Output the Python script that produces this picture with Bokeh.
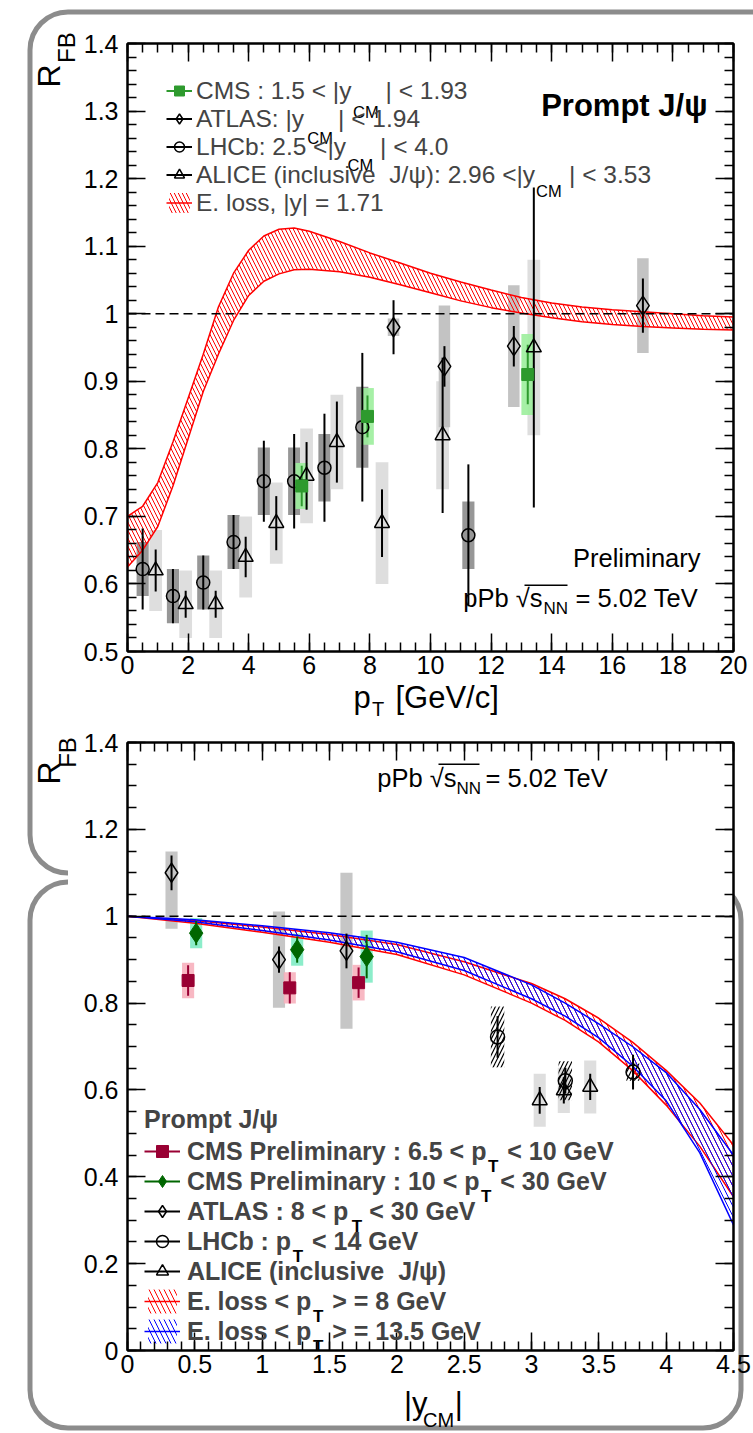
import numpy as np
from urllib.parse import quote
from bokeh.plotting import figure
from bokeh.models import (Range1d, LinearAxis, FixedTicker, Span, Label, Legend,
                          LegendItem, CustomJSTickFormatter, BoxAnnotation)
from bokeh.layouts import column
from bokeh.embed import file_html
from bokeh.resources import INLINE

FONT = "Liberation Sans"

# ---------------- top panel data (R_FB vs pT) ----------------
cms_pt = [5.75, 7.92, 13.21]
cms_r = [0.745, 0.848, 0.910]
cms_stat = [0.030, 0.031, 0.044]
cms_syst = [0.034, 0.042, 0.060]

atlas_pt = [8.78, 10.46, 12.75, 17.01]
atlas_r = [0.980, 0.922, 0.952, 1.012]
atlas_stat = [0.040, 0.030, 0.030, 0.040]
atlas_syst = [0.013, 0.090, 0.090, 0.070]

lhcb_pt = [0.5, 1.5, 2.5, 3.5, 4.5, 5.5, 6.5, 7.75, 11.25]
lhcb_r = [0.622, 0.582, 0.602, 0.662, 0.752, 0.752, 0.772, 0.832, 0.672]
lhcb_stat = [0.060, 0.040, 0.040, 0.040, 0.060, 0.070, 0.080, 0.110, 0.105]
lhcb_syst = [0.040, 0.040, 0.040, 0.040, 0.050, 0.050, 0.050, 0.060, 0.050]

alice_pt = [0.93, 1.92, 2.91, 3.90, 4.91, 5.91, 6.91, 8.40, 10.40, 13.41]
alice_r = [0.620, 0.570, 0.570, 0.640, 0.690, 0.760, 0.810, 0.690, 0.820, 0.950]
alice_stat = [0.031, 0.020, 0.020, 0.030, 0.040, 0.050, 0.060, 0.050, 0.115, 0.237]
alice_syst = [0.060, 0.050, 0.050, 0.060, 0.060, 0.070, 0.070, 0.090, 0.080, 0.130]

eloss_pt = [0, 0.5, 1, 1.5, 2, 2.5, 3, 3.5, 4, 4.5, 5, 5.5, 6, 7, 8, 9, 10,
            11, 12, 13, 14, 15, 16, 17, 18, 19, 20]
eloss_hi = [0.700, 0.715, 0.750, 0.810, 0.875, 0.940, 1.010, 1.060, 1.094, 1.115,
            1.125, 1.127, 1.122, 1.107, 1.090, 1.075, 1.060, 1.047, 1.035, 1.024,
            1.016, 1.010, 1.006, 1.003, 1.000, 0.997, 0.995]
eloss_lo = [0.625, 0.650, 0.685, 0.745, 0.815, 0.885, 0.940, 0.990, 1.027, 1.048,
            1.059, 1.065, 1.066, 1.062, 1.054, 1.043, 1.031, 1.019, 1.009, 1.001,
            0.994, 0.988, 0.984, 0.981, 0.979, 0.977, 0.976]

# ---------------- bottom panel data (R_FB vs |y_CM|) ----------------
cms1_y = [0.45, 1.205, 1.716]
cms1_r = [0.852, 0.835, 0.847]
cms1_stat = [0.035, 0.036, 0.035]
cms1_syst = [0.041, 0.036, 0.041]

cms2_y = [0.51, 1.26, 1.776]
cms2_r = [0.961, 0.923, 0.907]
cms2_stat = [0.028, 0.030, 0.050]
cms2_syst = [0.035, 0.037, 0.060]

atlasb_y = [0.327, 1.125, 1.626]
atlasb_r = [1.100, 0.900, 0.920]
atlasb_stat = [0.040, 0.030, 0.040]
atlasb_box_lo = [0.971, 0.789, 0.741]
atlasb_box_hi = [1.149, 1.011, 1.100]

lhcbb_y = [2.748, 3.251, 3.754]
lhcbb_r = [0.722, 0.621, 0.641]
lhcbb_stat = [0.048, 0.030, 0.040]
lhcbb_syst = [0.070, 0.045, 0.020]

aliceb_y = [3.061, 3.240, 3.436]
aliceb_r = [0.576, 0.599, 0.607]
aliceb_stat = [0.031, 0.030, 0.030]
aliceb_syst = [0.061, 0.052, 0.061]

band_y = [0, 0.5, 1, 1.5, 2, 2.5, 3, 3.25, 3.5, 3.75, 4, 4.25, 4.5]
red_hi = [1.0, 0.990, 0.975, 0.958, 0.935, 0.895, 0.845, 0.810, 0.765, 0.710, 0.645, 0.570, 0.473]
red_lo = [1.0, 0.984, 0.963, 0.940, 0.912, 0.865, 0.800, 0.760, 0.710, 0.645, 0.565, 0.470, 0.354]
blue_hi = [1.0, 0.992, 0.978, 0.962, 0.940, 0.905, 0.842, 0.800, 0.752, 0.700, 0.640, 0.555, 0.450]
blue_lo = [1.0, 0.987, 0.967, 0.945, 0.918, 0.875, 0.810, 0.770, 0.720, 0.655, 0.575, 0.455, 0.289]

top_xticks = [0, 2, 4, 6, 8, 10, 12, 14, 16, 18, 20]
top_yticks = [0.5, 0.6, 0.7, 0.8, 0.9, 1.0, 1.1, 1.2, 1.3, 1.4]
bot_xticks = [0, 0.5, 1, 1.5, 2, 2.5, 3, 3.5, 4, 4.5]
bot_yticks = [0, 0.2, 0.4, 0.6, 0.8, 1.0, 1.2, 1.4]

# ---------------- helpers ----------------
AR = {' ': 278, '\u00a0': 278, '(': 333, ')': 333, ',': 278, '.': 278, '/': 278, ':': 278,
      '<': 584, '=': 584, '>': 584, '|': 260, 'A': 667, 'B': 667, 'C': 722, 'E': 667,
      'G': 778, 'H': 722, 'I': 278, 'J': 500, 'L': 556, 'M': 833, 'N': 722, 'P': 667,
      'S': 667, 'T': 611, 'V': 667, 'a': 556, 'b': 556, 'c': 500, 'e': 556, 'i': 222,
      'l': 222, 'm': 833, 'n': 556, 'o': 556, 'p': 556, 'r': 333, 's': 500, 't': 278,
      'u': 556, 'v': 500, 'y': 500, '\u03c8': 690}
AB = {' ': 278, '\u00a0': 278, '(': 333, ')': 333, '.': 278, '/': 278, ':': 333,
      '<': 584, '=': 584, '>': 584, '|': 280, 'A': 722, 'C': 722, 'E': 667, 'G': 778,
      'H': 722, 'I': 278, 'J': 556, 'L': 611, 'M': 833, 'P': 667, 'S': 667, 'T': 611,
      'V': 667, 'a': 556, 'b': 611, 'c': 556, 'e': 556, 'i': 278, 'l': 278, 'm': 889,
      'n': 611, 'o': 611, 'p': 611, 'r': 389, 's': 556, 't': 333, 'u': 611, 'v': 556,
      'y': 556, '\u03c8': 690}


def tw(s, size, bold=False):
    t = AB if bold else AR
    return sum(t.get(c, 556) for c in s) * size / 1000.0


FRAME_LEFT = 127


def txt(p, fb, px, py, text, size, bold=False, align="left", baseline="middle", angle=0.0):
    p.add_layout(Label(x=px - FRAME_LEFT, y=fb - py, x_units="screen", y_units="screen",
                       text=text, text_font=FONT, text_font_size=f"{size}px",
                       text_font_style="bold" if bold else "normal", text_color="black",
                       text_align=align, text_baseline=baseline, angle=angle))


def text_axis(p, side, ticks, labels, size, standoff, vertical=False):
    """An axis without line or ticks whose tick labels carry a title piece."""
    ax = LinearAxis(ticker=FixedTicker(ticks=ticks, minor_ticks=[]),
                    major_label_overrides={t: l for t, l in zip(ticks, labels)},
                    axis_line_color=None, major_tick_line_color=None,
                    minor_tick_line_color=None, major_tick_in=0, major_tick_out=0,
                    minor_tick_in=0, minor_tick_out=0, major_label_standoff=standoff,
                    major_label_text_font=FONT, major_label_text_font_size=f"{size}px",
                    major_label_text_color="black")
    if vertical:
        ax.major_label_orientation = "vertical"
    p.add_layout(ax, side)
    return ax


def make_fig(h, xr, yr, top, bottom, xt, xstep, yt, ystep):
    p = figure(width=753, height=h, x_range=Range1d(*xr), y_range=Range1d(*yr),
               output_backend="svg", toolbar_location=None,
               min_border_left=FRAME_LEFT, min_border_right=20,
               min_border_top=top, min_border_bottom=bottom,
               background_fill_color="white", border_fill_color=None,
               outline_line_color="black", outline_line_width=2)
    p.xgrid.visible = False
    p.ygrid.visible = False
    xminor = list(np.round(np.arange(xr[0], xr[1] + 1e-9, xstep), 4))
    yminor = list(np.round(np.arange(yr[0], yr[1] + 1e-9, ystep), 4))
    fmt = CustomJSTickFormatter(code="return String(Math.round(tick*1000)/1000);")
    blank = CustomJSTickFormatter(code="return '';")
    p.add_layout(LinearAxis(), "above")
    p.add_layout(LinearAxis(), "right")
    for ax, ticks, minor, shown in [(p.below[0], xt, xminor, True), (p.above[0], xt, xminor, False),
                                    (p.left[0], yt, yminor, True), (p.right[0], yt, yminor, False)]:
        ax.ticker = FixedTicker(ticks=ticks, minor_ticks=minor)
        ax.formatter = fmt if shown else blank
        ax.axis_line_color = "black"
        ax.axis_line_width = 2
        ax.major_tick_in = 18
        ax.major_tick_out = 0
        ax.minor_tick_in = 9
        ax.minor_tick_out = 0
        ax.major_tick_line_width = 1.5
        ax.minor_tick_line_width = 1.5
        ax.major_tick_line_color = "black"
        ax.minor_tick_line_color = "black"
        ax.major_label_text_font = FONT
        ax.major_label_text_font_size = "25px"
        ax.major_label_text_color = "black"
    p.below[0].major_label_standoff = 4
    p.left[0].major_label_standoff = 9
    return p


def boxes(p, x, r, lo, hi, hw, color, alpha=1.0, hatch=None):
    x = np.asarray(x, float)
    kw = dict(left=x - hw, right=x + hw, bottom=np.asarray(lo, float), top=np.asarray(hi, float),
              line_color=None)
    if hatch:
        return p.quad(fill_alpha=0, hatch_pattern=hatch, hatch_color=color, hatch_scale=8,
                      hatch_weight=1.2, **kw)
    return p.quad(fill_color=color, fill_alpha=alpha, **kw)


def errs(p, x, r, e, color="black", width=2):
    r = np.asarray(r, float)
    e = np.asarray(e, float)
    return p.segment(x0=x, y0=r - e, x1=x, y1=r + e, line_color=color, line_width=width)


def band(p, x, lo, hi, color, hatch="\\", scale=8):
    v = p.varea(x=x, y1=lo, y2=hi, fill_alpha=0, hatch_pattern=hatch, hatch_color=color,
                hatch_scale=scale, hatch_weight=1)
    l1 = p.line(x, hi, line_color=color, line_width=1.5)
    l2 = p.line(x, lo, line_color=color, line_width=1.5)
    return v, l1, l2


S = lambda a, b: list(np.asarray(a, float) + np.asarray(b, float))
D = lambda a, b: list(np.asarray(a, float) - np.asarray(b, float))
NB = "\u00a0"

# ======================= TOP PANEL =======================
TOP_H = 727
TOP_FB = 651
top = make_fig(TOP_H, (0, 20), (0.5, 1.4), 43, TOP_H - TOP_FB, top_xticks, 0.5, top_yticks, 0.02)

boxes(top, lhcb_pt, lhcb_r, D(lhcb_r, lhcb_syst), S(lhcb_r, lhcb_syst), 0.2, "#7d7d7d", 0.8)
boxes(top, alice_pt, alice_r, D(alice_r, alice_syst), S(alice_r, alice_syst), 0.21, "#dadada", 0.9)
boxes(top, atlas_pt, atlas_r, D(atlas_r, atlas_syst), S(atlas_r, atlas_syst), 0.19, "#bdbdbd", 0.9)
boxes(top, cms_pt, cms_r, D(cms_r, cms_syst), S(cms_r, cms_syst), 0.21, "#9cee9c", 0.9)

tv, tl1, tl2 = band(top, eloss_pt, eloss_lo, eloss_hi, "red", "\\", 8)
top.add_layout(Span(location=1.0, dimension="width", line_color="black", line_width=1.5,
                    line_dash="9 5"))

e_lhcb = errs(top, lhcb_pt, lhcb_r, lhcb_stat)
e_alice = errs(top, alice_pt, alice_r, alice_stat)
e_atlas = errs(top, atlas_pt, atlas_r, atlas_stat)
e_cms = errs(top, cms_pt, cms_r, cms_stat, "#2e9a2e")

m_lhcb = top.scatter(lhcb_pt, lhcb_r, marker="circle", size=13, fill_color=None,
                     line_color="black", line_width=1.5)
m_alice = top.scatter(alice_pt, alice_r, marker="triangle", size=15, fill_color=None,
                      line_color="black", line_width=1.5)
m_atlas = top.scatter(atlas_pt, atlas_r, marker="diamond", size=19, fill_color=None,
                      line_color="black", line_width=1.5)
m_cms = top.scatter(cms_pt, cms_r, marker="square", size=12, fill_color="#2e9a2e",
                    line_color="#2e9a2e")

TL_FS = 24.5
top_rows = [
    ("CMS : 1.5 < |y", "| < 1.93", [e_cms, m_cms]),
    ("ATLAS: |y", "| < 1.94", [e_atlas, m_atlas]),
    ("LHCb: 2.5 <|y", "| < 4.0", [e_lhcb, m_lhcb]),
    ("ALICE (inclusive  J/\u03c8): 2.96 <|y", "| < 3.53", [e_alice, m_alice]),
    ("E. loss, |y| = 1.71", None, [tv, tl1]),
]
items = []
TL_X0 = 196
TL_Y0 = 97
TL_DY = 26.5
for i, (pre, post, rends) in enumerate(top_rows):
    label = pre if post is None else pre + NB * 5 + post
    items.append(LegendItem(label=label, renderers=rends))
    if post is not None:
        sx = TL_X0 + tw(pre, TL_FS) + 1
        txt(top, TOP_FB, sx, TL_Y0 + i * TL_DY + 14, "CM", 16.5)
top_leg = Legend(items=items, location=(166 - FRAME_LEFT, TOP_FB - (TL_Y0 - 13 + 5 * TL_DY)),
                 padding=0, margin=0, spacing=0, border_line_color=None, background_fill_alpha=0,
                 glyph_width=26, glyph_height=25, label_height=25, label_standoff=4,
                 label_text_font=FONT, label_text_font_size=f"{TL_FS}px")
top.add_layout(top_leg)

txt(top, TOP_FB, 707, 105, "Prompt J/\u03c8", 31, bold=True, align="right")
txt(top, TOP_FB, 700, 557, "Preliminary", 25.5, align="right")
txt(top, TOP_FB, 575, 597, "= 5.02 TeV", 25.5)
txt(top, TOP_FB, 542, 597, "pPb \u221as", 25.5, align="right")
txt(top, TOP_FB, 543, 608, "NN", 17)
top.add_layout(BoxAnnotation(left=524 - FRAME_LEFT, right=567 - FRAME_LEFT,
                             bottom=TOP_FB - 585.5, top=TOP_FB - 584,
                             left_units="screen", right_units="screen",
                             bottom_units="screen", top_units="screen",
                             fill_color="black", fill_alpha=1, line_color=None))

# axis titles (p_T [GeV/c], R_FB) as label-only axes outside the frame
text_axis(top, "below", [8.27], ["T"], 20, 21)
text_axis(top, "below", [7.74, 10.55], ["p", "[GeV/c]"], 31, -43)
text_axis(top, "left", [1.394], ["FB"], 24, 0, vertical=True)
text_axis(top, "left", [1.352], ["R"], 32, -17, vertical=True)

# ======================= BOTTOM PANEL =======================
BOT_H = 1433 - TOP_H
BOT_FB = 1351
bot = make_fig(BOT_H, (0, 4.5), (0, 1.4), 742 - TOP_H, 82, bot_xticks, 0.1, bot_yticks, 0.05)

boxes(bot, atlasb_y, atlasb_r, atlasb_box_lo, atlasb_box_hi, 0.045, "#c0c0c0", 0.9)
boxes(bot, aliceb_y, aliceb_r, D(aliceb_r, aliceb_syst), S(aliceb_r, aliceb_syst), 0.045, "#dadada", 0.9)
boxes(bot, cms1_y, cms1_r, D(cms1_r, cms1_syst), S(cms1_r, cms1_syst), 0.045, "#f7b0bd", 0.9)
boxes(bot, cms2_y, cms2_r, D(cms2_r, cms2_syst), S(cms2_r, cms2_syst), 0.045, "#80ebc4", 0.9)
boxes(bot, lhcbb_y, lhcbb_r, D(lhcbb_r, lhcbb_syst), S(lhcbb_r, lhcbb_syst), 0.05, "black", hatch="/")

rv, rl1, rl2 = band(bot, band_y, red_lo, red_hi, "red", "\\", 10)
bv, bl1, bl2 = band(bot, band_y, blue_lo, blue_hi, "blue", "\\", 10)
bot.add_layout(Span(location=1.0, dimension="width", line_color="black", line_width=1.5,
                    line_dash="9 5"))

be_cms1 = errs(bot, cms1_y, cms1_r, cms1_stat, "#990033")
be_cms2 = errs(bot, cms2_y, cms2_r, cms2_stat, "#006600")
be_atlas = errs(bot, atlasb_y, atlasb_r, atlasb_stat)
be_lhcb = errs(bot, lhcbb_y, lhcbb_r, lhcbb_stat)
be_alice = errs(bot, aliceb_y, aliceb_r, aliceb_stat)

bm_cms1 = bot.scatter(cms1_y, cms1_r, marker="square", size=12, fill_color="#990033",
                      line_color="#990033")
bm_cms2 = bot.scatter(cms2_y, cms2_r, marker="diamond", size=20, fill_color="#006600",
                      line_color="#006600")
bm_atlas = bot.scatter(atlasb_y, atlasb_r, marker="diamond", size=19, fill_color=None,
                       line_color="black", line_width=1.5)
bm_lhcb = bot.scatter(lhcbb_y, lhcbb_r, marker="circle", size=14, fill_color=None,
                      line_color="black", line_width=1.5)
bm_alice = bot.scatter(aliceb_y, aliceb_r, marker="triangle", size=15, fill_color=None,
                       line_color="black", line_width=1.5)

BL_FS = 25
bot_rows = [
    ("CMS Preliminary : 6.5 < p", "< 10 GeV", [be_cms1, bm_cms1]),
    ("CMS Preliminary : 10 < p", "< 30 GeV", [be_cms2, bm_cms2]),
    ("ATLAS : 8 < p", "< 30 GeV", [be_atlas, bm_atlas]),
    ("LHCb : p", "< 14 GeV", [be_lhcb, bm_lhcb]),
    ("ALICE (inclusive  J/\u03c8)", None, [be_alice, bm_alice]),
    ("E. loss < p", "> = 8 GeV", [rv, rl1]),
    ("E. loss < p", "> = 13.5 GeV", [bv, bl1]),
]
BL_X0 = 187
BL_Y0 = 1151.7
BL_DY = 30
bitems = []
for i, (pre, post, rends) in enumerate(bot_rows):
    label = pre if post is None else pre + NB * 3 + post
    bitems.append(LegendItem(label=label, renderers=rends))
    if post is not None:
        sx = BL_X0 + tw(pre, BL_FS, True) + 1
        txt(bot, BOT_FB, sx, BL_Y0 + i * BL_DY + 15, "T", 17, bold=True)
bot_leg = Legend(items=bitems, location=(144 - FRAME_LEFT, 4),
                 title="Prompt J/\u03c8", title_text_font=FONT, title_text_font_size="25px",
                 title_text_font_style="bold", title_standoff=2,
                 padding=0, margin=0, spacing=0, border_line_color=None, background_fill_alpha=0,
                 glyph_width=36, glyph_height=30, label_height=30, label_standoff=7,
                 label_text_font=FONT, label_text_font_size=f"{BL_FS}px",
                 label_text_font_style="bold")
bot.add_layout(bot_leg)

txt(bot, BOT_FB, 485, 778, "= 5.02 TeV", 25.5)
txt(bot, BOT_FB, 456, 778, "pPb \u221as", 25.5, align="right")
txt(bot, BOT_FB, 456, 789, "NN", 17)
bot.add_layout(BoxAnnotation(left=438 - FRAME_LEFT, right=479 - FRAME_LEFT,
                             bottom=BOT_FB - 765.5, top=BOT_FB - 764,
                             left_units="screen", right_units="screen",
                             bottom_units="screen", top_units="screen",
                             fill_color="black", fill_alpha=1, line_color=None))

text_axis(bot, "below", [2.31], ["CM"], 20, 33)
text_axis(bot, "below", [2.14, 2.46], ["|y", "|"], 31, -48)
text_axis(bot, "left", [1.377], ["FB"], 24, 0, vertical=True)
text_axis(bot, "left", [1.33], ["R"], 32, -17, vertical=True)

# ======================= page background (rounded slide frames) =======================
svg = ("<svg xmlns='http://www.w3.org/2000/svg' width='753' height='1433'>"
       "<path d='M 68 873 A 38 38 0 0 1 30 835 L 30 50 A 38 38 0 0 1 68 12 L 780 12' "
       "fill='none' stroke='#8c8c8c' stroke-width='5'/>"
       "<path d='M 68 882 A 38 38 0 0 0 30 920 L 30 1390 A 38 38 0 0 0 68 1428 L 703 1428 "
       "A 38 38 0 0 0 741 1390 L 741 920 A 38 38 0 0 0 703 882' "
       "fill='none' stroke='#8c8c8c' stroke-width='5'/></svg>")
bg = "url(\"data:image/svg+xml," + quote(svg) + "\")"

page = column(top, bot, spacing=0,
              styles={"background-color": "white", "background-image": bg,
                      "background-repeat": "no-repeat"})

open("out.html", "w").write(file_html(page, INLINE))
